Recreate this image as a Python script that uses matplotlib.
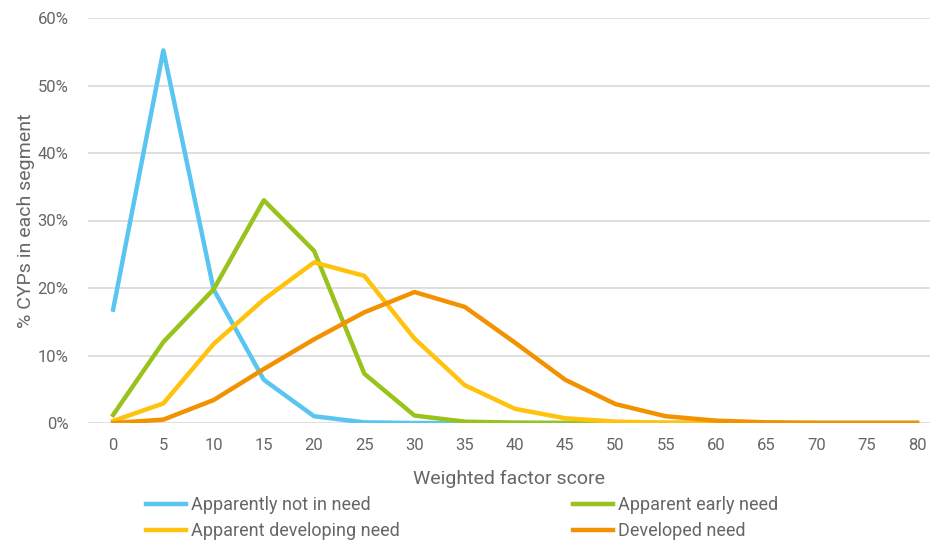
import matplotlib
matplotlib.use("Agg")
import matplotlib.pyplot as plt
from matplotlib.ticker import PercentFormatter

plt.rcParams['font.family'] = ['Roboto', 'DejaVu Sans']

scores = [0, 5, 10, 15, 20, 25, 30, 35, 40, 45, 50, 55, 60, 65, 70, 75, 80]

not_in_need = [16.8, 55.2, 19.8, 6.4, 1.0, 0.1, 0, 0, 0, 0, 0, 0, 0, 0, 0, 0, 0]
early_need = [1.2, 12.0, 19.8, 33.0, 25.5, 7.3, 1.1, 0.2, 0.05, 0, 0, 0, 0, 0, 0, 0, 0]
developing_need = [0.3, 2.9, 11.7, 18.3, 23.8, 21.8, 12.5, 5.6, 2.1, 0.7, 0.2, 0.05, 0, 0, 0, 0, 0]
developed_need = [0.0, 0.5, 3.4, 8.0, 12.4, 16.4, 19.4, 17.2, 11.9, 6.4, 2.8, 1.0, 0.35, 0.1, 0, 0, 0]

series = [
    ("Apparently not in need", not_in_need, "#5BC5F2"),
    ("Apparent early need", early_need, "#99C31C"),
    ("Apparent developing need", developing_need, "#FFC20E"),
    ("Developed need", developed_need, "#F39200"),
]

grey = "#666666"

fig = plt.figure(figsize=(9.3, 5.41), dpi=100)
ax = fig.add_axes([88 / 930, 1 - 423 / 541, 842 / 930, 405 / 541])

lines = {}
for name, vals, col in series:
    lines[name], = ax.plot(scores, vals, color=col, lw=3.2, label=name)

ax.set_xlim(-2.5, 81.3)
ax.set_ylim(0, 60)
ax.set_xticks(scores)
ax.set_yticks(range(0, 61, 10))
ax.yaxis.set_major_formatter(PercentFormatter(decimals=0))
ax.grid(axis='y', color='#D9D9D9', lw=1.2)
ax.set_axisbelow(True)
for s in ax.spines.values():
    s.set_visible(False)
ax.tick_params(length=0, colors=grey, labelsize=12)
ax.tick_params(axis='x', pad=11)
ax.tick_params(axis='y', pad=14)

ax.set_xlabel("Weighted factor score", color=grey, fontsize=14, labelpad=12)
ax.set_ylabel("% CYPs in each segment", color=grey, fontsize=14, labelpad=2)

# legend fills column by column, so order entries to read across rows
order = ["Apparently not in need", "Apparent developing need",
         "Apparent early need", "Developed need"]
fig.legend([lines[n] for n in order], order,
           loc='upper left', bbox_to_anchor=(146 / 930, 1 - 496 / 541),
           bbox_transform=fig.transFigure,
           ncol=2, frameon=False, fontsize=13, handlelength=2.2,
           handletextpad=0.28, columnspacing=9.6, labelspacing=0.45,
           borderpad=0, borderaxespad=0, labelcolor=grey)

fig.savefig("out.png", dpi=100)
